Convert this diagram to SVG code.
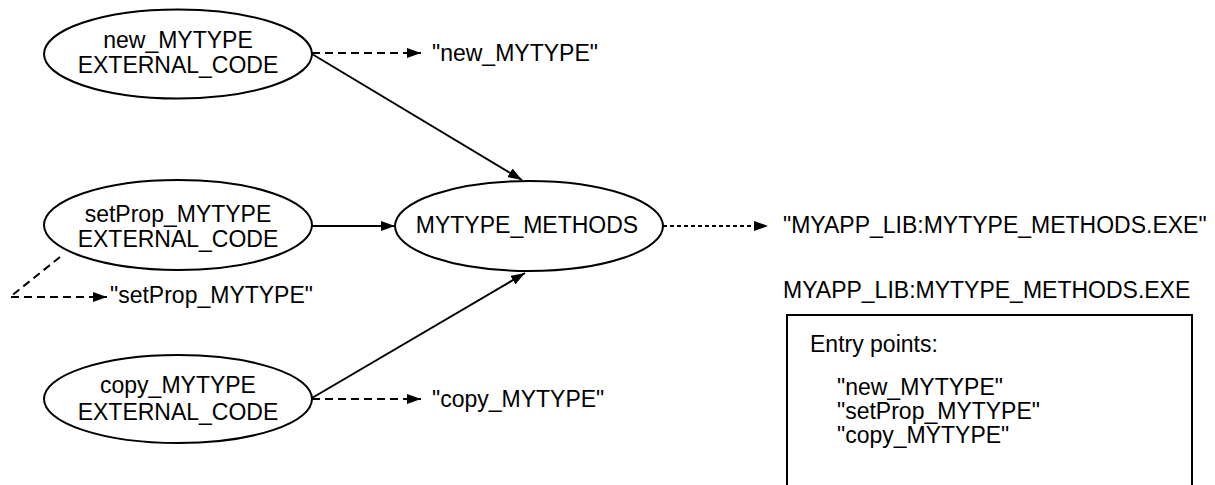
<svg xmlns="http://www.w3.org/2000/svg" width="1215" height="485" viewBox="0 0 1215 485">
  <style>
    text { font-family: "Liberation Sans", Arial, sans-serif; font-size: 23px; fill: #000; }
    .node ellipse { fill: #fff; stroke: #000; stroke-width: 2; }
    .mid { text-anchor: middle; }
    .solid { fill: none; stroke: #000; stroke-width: 2; }
    .dash { fill: none; stroke: #000; stroke-width: 2; stroke-dasharray: 8 5; }
    .dot { fill: none; stroke: #000; stroke-width: 2; stroke-dasharray: 4 3; }
  </style>
  <defs>
    <marker id="arrow" viewBox="0 0 14 10" refX="14" refY="5" markerWidth="14" markerHeight="10" markerUnits="userSpaceOnUse" orient="auto">
      <path d="M0,0 L14,5 L0,10 Z" fill="#000"/>
    </marker>
  </defs>

  <rect width="1215" height="485" fill="#fff"/>

  <g id="connectors">
    <!-- calls into the methods image -->
    <line class="solid" x1="312" y1="54" x2="522" y2="180" marker-end="url(#arrow)"/>
    <line class="solid" x1="312" y1="226" x2="395" y2="226" marker-end="url(#arrow)"/>
    <line class="solid" x1="312" y1="398" x2="525" y2="273" marker-end="url(#arrow)"/>
    <!-- entry-point name references -->
    <line class="dash" x1="312" y1="53" x2="421" y2="53" marker-end="url(#arrow)"/>
    <polyline class="dash" points="60,257 10,297 107,297" marker-end="url(#arrow)"/>
    <line class="dash" x1="312" y1="399" x2="421" y2="399" marker-end="url(#arrow)"/>
    <!-- image file reference -->
    <line class="dot" x1="663" y1="226" x2="768" y2="226" marker-end="url(#arrow)"/>
  </g>

  <g id="node-new" class="node">
    <ellipse cx="178" cy="54" rx="134" ry="44.5"/>
    <text class="mid" x="178" y="48">new_MYTYPE</text>
    <text class="mid" x="178" y="73">EXTERNAL_CODE</text>
  </g>

  <g id="node-setprop" class="node">
    <ellipse cx="178" cy="225" rx="134" ry="45"/>
    <text class="mid" x="178" y="222">setProp_MYTYPE</text>
    <text class="mid" x="178" y="247">EXTERNAL_CODE</text>
  </g>

  <g id="node-copy" class="node">
    <ellipse cx="178" cy="399" rx="134" ry="44"/>
    <text class="mid" x="178" y="393">copy_MYTYPE</text>
    <text class="mid" x="178" y="420">EXTERNAL_CODE</text>
  </g>

  <g id="node-methods" class="node">
    <ellipse cx="529" cy="226" rx="134" ry="45"/>
    <text class="mid" x="527" y="233">MYTYPE_METHODS</text>
  </g>

  <g id="label-new">
    <text x="432" y="61">"new_MYTYPE"</text>
  </g>
  <g id="label-setprop">
    <text x="110" y="303">"setProp_MYTYPE"</text>
  </g>
  <g id="label-copy">
    <text x="432" y="407">"copy_MYTYPE"</text>
  </g>
  <g id="label-exe">
    <text x="783" y="233">"MYAPP_LIB:MYTYPE_METHODS.EXE"</text>
  </g>

  <g id="image-box">
    <text x="783" y="298">MYAPP_LIB:MYTYPE_METHODS.EXE</text>
    <rect x="787" y="315" width="405" height="172" fill="#fff" stroke="#000" stroke-width="2"/>
    <text x="810" y="352">Entry points:</text>
    <text x="837" y="395">"new_MYTYPE"</text>
    <text x="837" y="419">"setProp_MYTYPE"</text>
    <text x="837" y="443">"copy_MYTYPE"</text>
  </g>
</svg>
